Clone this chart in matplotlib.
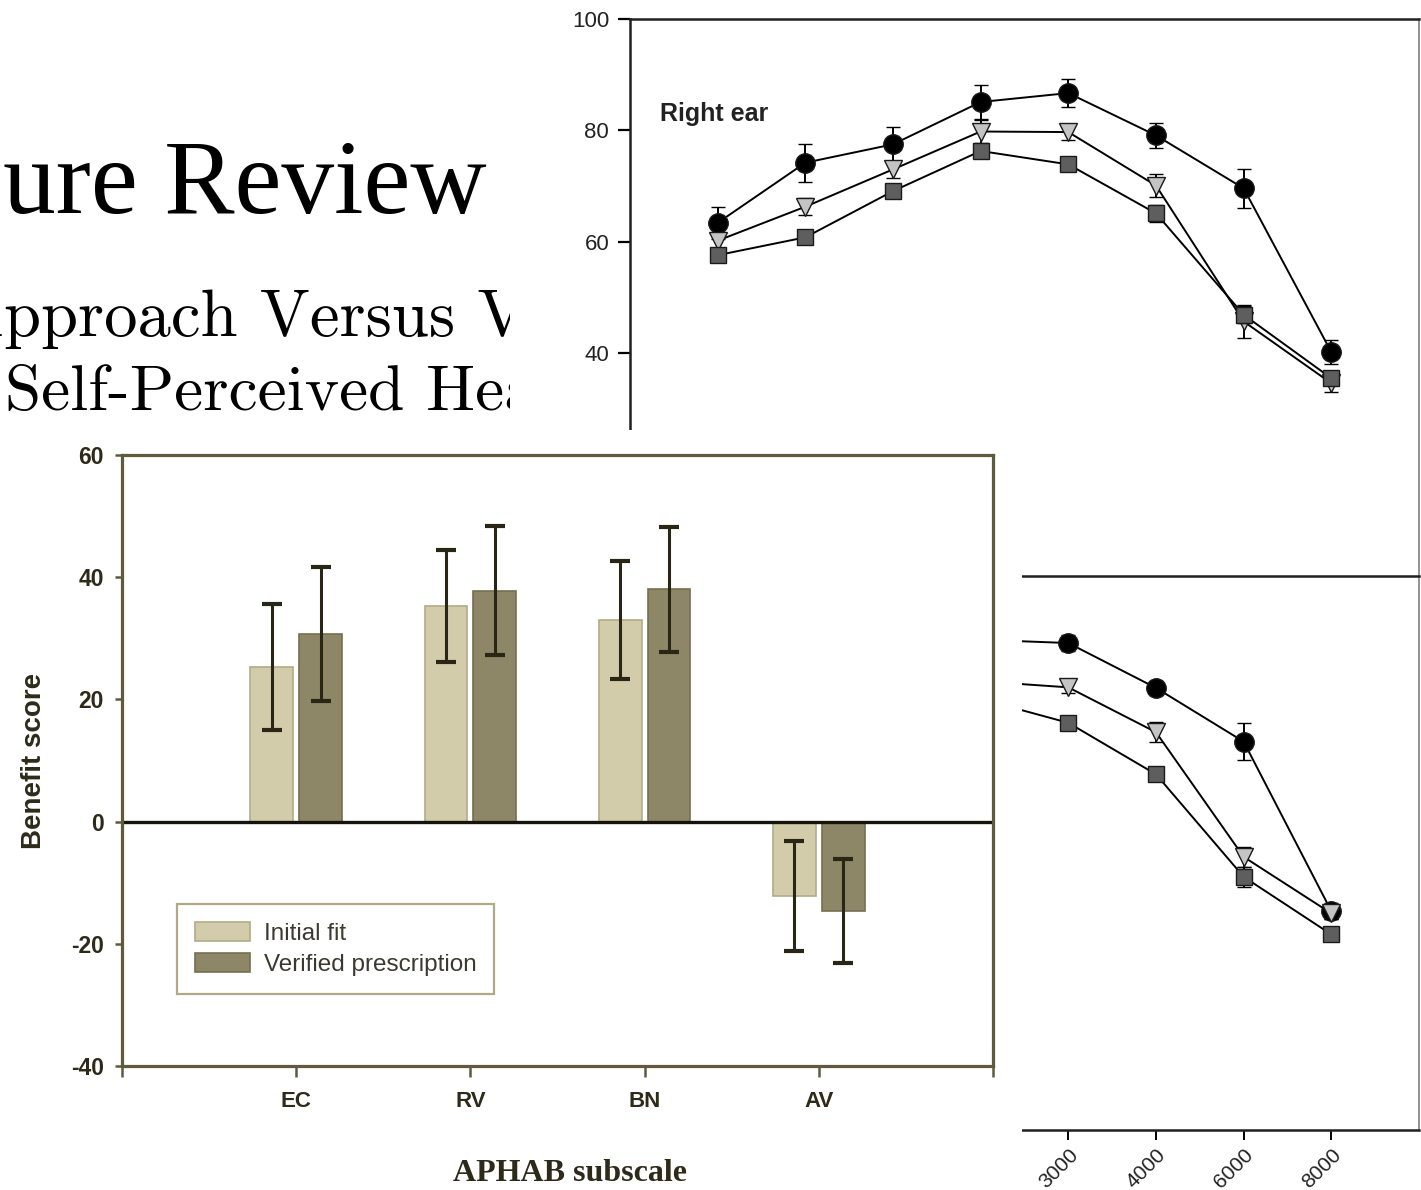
import matplotlib.pyplot as plt
import numpy as np

plt.rcParams['font.family'] = ['Liberation Sans', 'DejaVu Sans']

W, H = 1421, 1190

# upper panel (right ear), one value per frequency
freqs = ['250', '500', '1000', '2000', '3000', '4000', '6000', '8000']
right_circle = [63.4, 74.2, 77.5, 85.1, 86.7, 79.1, 69.6, 40.2]
right_circle_err = [2.9, 3.4, 3.2, 3.1, 2.5, 2.3, 3.5, 2.1]
right_tri = [60.2, 66.3, 73.0, 79.8, 79.7, 70.1, 45.7, 34.6]
right_tri_err = [1.5, 1.5, 1.5, 2.0, 1.5, 2.0, 3.0, 1.5]
right_sq = [57.6, 60.8, 69.1, 76.3, 73.9, 65.1, 46.9, 35.5]
right_sq_err = [1.0, 1.0, 1.0, 1.0, 1.0, 1.5, 1.5, 1.0]

# lower panel, only 2000 Hz and up is visible
low_freqs = ['2000', '3000', '4000', '6000', '8000']
low_circle = [88.5, 87.9, 79.8, 70.1, 39.5]
low_circle_err = [1.0, 1.5, 1.2, 3.4, 1.5]
low_tri = [81.0, 79.9, 71.8, 49.3, 39.1]
low_tri_err = [1.0, 1.0, 1.8, 1.8, 1.0]
low_sq = [77.8, 73.5, 64.2, 45.7, 35.3]
low_sq_err = [1.0, 1.0, 1.0, 1.8, 1.0]

# bar chart (APHAB benefit)
subscales = ['EC', 'RV', 'BN', 'AV']
initial_fit = [25.3, 35.3, 33.0, -12.2]
initial_err = [10.3, 9.2, 9.6, 9.0]
verified = [30.7, 37.8, 38.0, -14.6]
verified_err = [11.0, 10.6, 10.2, 8.5]


def box(l, t, r, b):
    # pixel box -> figure fraction
    return [l / W, 1 - b / H, (r - l) / W, (b - t) / H]


def draw_lines(ax, x, series):
    for vals, errs, marker, face, ms, z in series:
        ax.errorbar(x, vals, yerr=errs, color='black', lw=1.4,
                    marker=marker, ms=ms, mfc=face, mec='#1a1a1a', mew=1.0,
                    ecolor='black', elinewidth=1.4, capsize=5, capthick=1.4,
                    zorder=z)


fig = plt.figure(figsize=(W / 100, H / 100), dpi=100)

# slide background with the title text
slide = fig.add_axes([0, 0, 1, 1], zorder=0)
slide.set_xlim(0, W)
slide.set_ylim(H, 0)
slide.axis('off')
slide.text(487, 213, 'ure Review', ha='right', va='baseline',
           fontsize=76, family='Liberation Serif', color='black')
slide.text(-46, 336, 'Approach Versus Ve', ha='left', va='baseline',
           fontsize=48, family='cmr10', color='black')
slide.text(5, 410, 'Self-Perceived Hea', ha='left', va='baseline',
           fontsize=47, family='cmr10', color='black')

# white picture behind the audiogram
bg1 = fig.add_axes(box(510, 0, W, H), zorder=1)
bg1.axis('off')
bg1.add_patch(plt.Rectangle((0, 0), 1, 1, transform=bg1.transAxes,
                            color='white'))

# upper panel
ax1 = fig.add_axes(box(630, 19, 1419, 576), zorder=2.5)
ax1.patch.set_visible(False)
x_all = np.arange(len(freqs))
draw_lines(ax1, x_all, [
    (right_circle, right_circle_err, 'o', 'black', 14, 3),
    (right_tri, right_tri_err, 'v', '#c4c4c4', 13, 4),
    (right_sq, right_sq_err, 's', '#5e5e5e', 12, 5),
])
ax1.set_xlim(-1, len(freqs))
ax1.set_ylim(0, 100)
ax1.set_xticks([])
ax1.set_yticks(np.arange(0, 101, 20))
ax1.tick_params(axis='y', direction='out', length=9, width=1.6, pad=6,
                labelsize=16, labelcolor='#222222')
for s in ['left', 'top', 'bottom']:
    ax1.spines[s].set_linewidth(1.8)
    ax1.spines[s].set_color('#202020')
ax1.spines['right'].set_linewidth(1.1)
ax1.spines['right'].set_color('#777777')
ax1.text(0.038, 0.829, 'Right ear', transform=ax1.transAxes, ha='left',
         va='center', fontsize=18, fontweight='bold', color='#222222')

# lower panel
ax2 = fig.add_axes(box(630, 576, 1419, 1130), zorder=2)
ax2.patch.set_visible(False)
x_low = np.array([freqs.index(f) for f in low_freqs])
draw_lines(ax2, x_low, [
    (low_circle, low_circle_err, 'o', 'black', 14, 3),
    (low_tri, low_tri_err, 'v', '#c4c4c4', 13, 4),
    (low_sq, low_sq_err, 's', '#5e5e5e', 12, 5),
])
ax2.set_xlim(-1, len(freqs))
ax2.set_ylim(0, 100)
ax2.set_xticks(x_low)
ax2.set_xticklabels(low_freqs, rotation=45, ha='right',
                    rotation_mode='anchor')
ax2.set_yticks([])
ax2.tick_params(axis='x', direction='out', length=7, width=1.4, pad=4,
                labelsize=15, labelcolor='#222222')
ax2.spines['top'].set_visible(False)
ax2.spines['bottom'].set_linewidth(1.8)
ax2.spines['bottom'].set_color('#202020')
ax2.spines['right'].set_linewidth(1.1)
ax2.spines['right'].set_color('#777777')

# white picture behind the bar chart
bg2 = fig.add_axes(box(0, 430, 1022, H), zorder=3)
bg2.axis('off')
bg2.add_patch(plt.Rectangle((0, 0), 1, 1, transform=bg2.transAxes,
                            color='white'))

# bar chart
olive = '#5f5a3e'
dark = '#2a2616'
ax3 = fig.add_axes(box(122, 455, 993, 1066), zorder=4)
pos = np.arange(1, len(subscales) + 1)
width = 0.245
b1 = ax3.bar(pos - 0.14, initial_fit, width, color='#d2ccaa',
             edgecolor='#b3ac88', linewidth=1.2, label='Initial fit')
b2 = ax3.bar(pos + 0.14, verified, width, color='#8d8667',
             edgecolor='#77704f', linewidth=1.2, label='Verified prescription')
ax3.errorbar(pos - 0.14, initial_fit, yerr=initial_err, fmt='none',
             ecolor=dark, elinewidth=2.2, capsize=7.5, capthick=3)
ax3.errorbar(pos + 0.14, verified, yerr=verified_err, fmt='none',
             ecolor=dark, elinewidth=2.2, capsize=7.5, capthick=3)
ax3.axhline(0, color='#15130a', lw=2.4)
ax3.set_xlim(0, 5)
ax3.set_ylim(-40, 60)
ax3.set_xticks(np.arange(0, 6))
ax3.set_xticklabels([''] + subscales + [''])
yt = np.arange(-40, 61, 20)
ax3.set_yticks(yt)
ax3.set_yticklabels([str(v) for v in yt])
ax3.tick_params(axis='y', direction='out', length=5, width=1.8, pad=8,
                colors=olive, labelcolor='#2e2a1a', labelsize=16.5)
ax3.tick_params(axis='x', direction='out', length=8, width=1.8, pad=10,
                colors=olive, labelcolor='#2e2a1a', labelsize=16)
for t in ax3.get_xticklabels() + ax3.get_yticklabels():
    t.set_fontweight('bold')
for s in ax3.spines.values():
    s.set_linewidth(2.3)
    s.set_color(olive)
ax3.set_ylabel('Benefit score', fontsize=20, fontweight='bold',
               color='#2e2a1a')
ax3.yaxis.set_label_coords(-0.086, 0.5)
ax3.set_xlabel('APHAB subscale', fontsize=23, fontweight='bold',
               family='Liberation Serif', color='#2e2a1a')
ax3.xaxis.set_label_coords(0.514, -0.152)
leg = ax3.legend(handles=[b1, b2], loc='lower left',
                 bbox_to_anchor=(0.063, 0.118), borderaxespad=0,
                 fancybox=False, framealpha=1, edgecolor='#b0a886',
                 fontsize=17.5, handlelength=2.26, handleheight=0.8,
                 handletextpad=0.58, borderpad=0.73, labelspacing=0.36)
leg.get_frame().set_linewidth(1.6)
for t in leg.get_texts():
    t.set_color('#3c3a30')

fig.savefig('out.png', dpi=100, facecolor='white')
